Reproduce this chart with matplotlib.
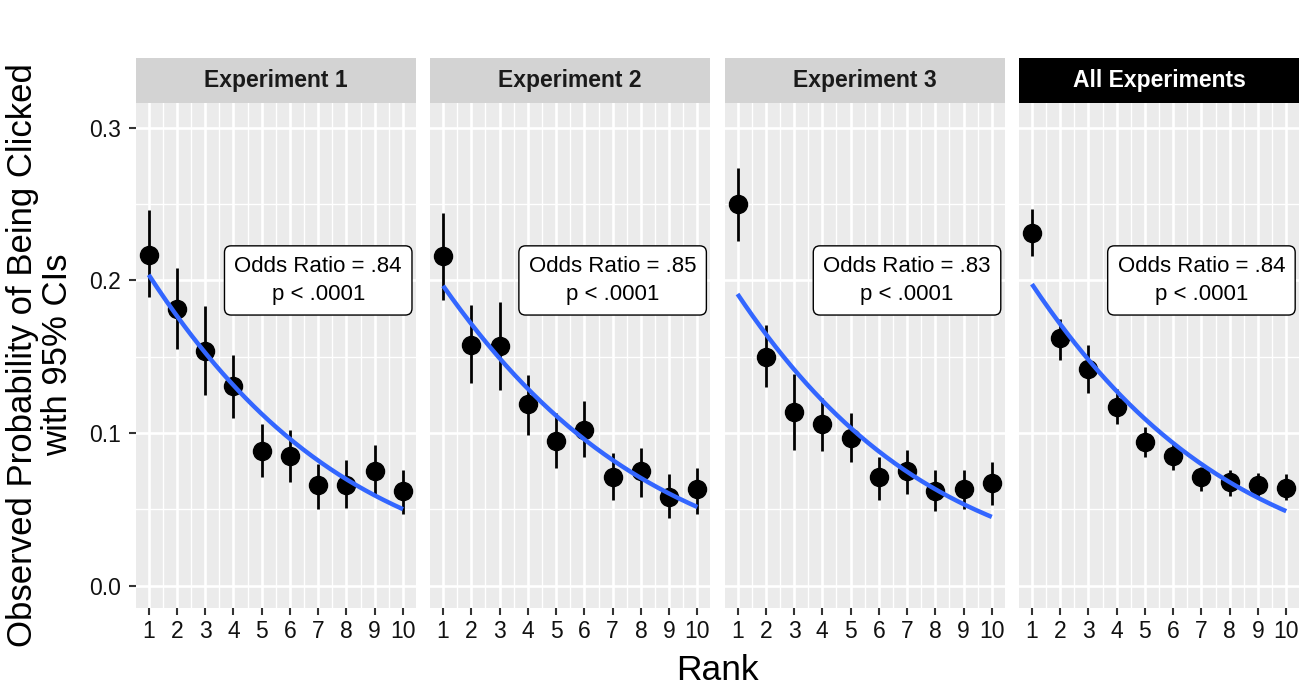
import numpy as np
import matplotlib
matplotlib.use("Agg")
import matplotlib.pyplot as plt
from matplotlib.ticker import FixedLocator

plt.rcParams['font.family'] = ['Liberation Sans', 'DejaVu Sans']

# ---------------- data ----------------
panels = ["Experiment 1", "Experiment 2", "Experiment 3", "All Experiments"]
ranks = [1, 2, 3, 4, 5, 6, 7, 8, 9, 10]

exp1_p  = [0.217, 0.181, 0.154, 0.131, 0.088, 0.085, 0.066, 0.066, 0.075, 0.062]
exp1_lo = [0.189, 0.155, 0.125, 0.110, 0.071, 0.068, 0.050, 0.051, 0.060, 0.047]
exp1_hi = [0.246, 0.208, 0.183, 0.151, 0.106, 0.102, 0.080, 0.082, 0.092, 0.076]

exp2_p  = [0.216, 0.158, 0.157, 0.119, 0.095, 0.102, 0.071, 0.075, 0.058, 0.063]
exp2_lo = [0.187, 0.133, 0.128, 0.099, 0.077, 0.084, 0.056, 0.058, 0.044, 0.047]
exp2_hi = [0.244, 0.184, 0.186, 0.138, 0.113, 0.121, 0.087, 0.090, 0.073, 0.077]

exp3_p  = [0.250, 0.150, 0.114, 0.106, 0.097, 0.071, 0.075, 0.062, 0.063, 0.067]
exp3_lo = [0.226, 0.130, 0.089, 0.088, 0.081, 0.056, 0.060, 0.049, 0.050, 0.053]
exp3_hi = [0.274, 0.171, 0.139, 0.123, 0.113, 0.084, 0.089, 0.076, 0.076, 0.081]

all_p   = [0.231, 0.162, 0.142, 0.117, 0.094, 0.085, 0.071, 0.068, 0.066, 0.064]
all_lo  = [0.216, 0.148, 0.126, 0.106, 0.084, 0.076, 0.062, 0.059, 0.058, 0.056]
all_hi  = [0.247, 0.175, 0.158, 0.129, 0.104, 0.094, 0.078, 0.076, 0.074, 0.073]

# logistic fit per panel: fitted probability at rank 1 and odds ratio per rank
fit_p_rank1 = [0.2037, 0.1965, 0.1911, 0.1976]
fit_odds_ratio = [0.839, 0.846, 0.836, 0.840]

labels = ["Odds Ratio = .84\np < .0001", "Odds Ratio = .85\np < .0001",
          "Odds Ratio = .83\np < .0001", "Odds Ratio = .84\np < .0001"]
label_x = 7
label_y = 0.2

y_ticks = [0.0, 0.1, 0.2, 0.3]
y_tick_labels = ["0.0", "0.1", "0.2", "0.3"]

series = [(exp1_p, exp1_lo, exp1_hi), (exp2_p, exp2_lo, exp2_hi),
          (exp3_p, exp3_lo, exp3_hi), (all_p, all_lo, all_hi)]

# ---------------- figure ----------------
W, H = 1310, 694
fig = plt.figure(figsize=(W / 100, H / 100), dpi=100)

left_px, top_px, bottom_px = 136, 102.7, 607.7
pw_px, gap_px = 279.7, 14.7
strip_top_px = 58.3

panel_bg = "#EBEBEB"
tick_col = "#333333"

for i, name in enumerate(panels):
    x0 = left_px + i * (pw_px + gap_px)
    ax = fig.add_axes([x0 / W, 1 - bottom_px / H, pw_px / W, (bottom_px - top_px) / H])
    ax.set_facecolor(panel_bg)
    for s in ax.spines.values():
        s.set_visible(False)
    ax.set_xlim(0.55, 10.45)
    ax.set_ylim(-0.0145, 0.3165)

    ax.xaxis.set_major_locator(FixedLocator(ranks))
    ax.xaxis.set_minor_locator(FixedLocator([r + 0.5 for r in ranks[:-1]]))
    ax.yaxis.set_major_locator(FixedLocator(y_ticks))
    ax.yaxis.set_minor_locator(FixedLocator([0.05, 0.15, 0.25]))
    ax.grid(which="major", color="white", linewidth=1.9)
    ax.grid(which="minor", color="white", linewidth=1.0)
    ax.set_axisbelow(True)

    ax.set_xticklabels([str(r) for r in ranks])
    ax.tick_params(axis="x", which="major", length=5, width=1.5, color=tick_col,
                   labelsize=16.5, labelcolor="#111111", pad=4)
    ax.tick_params(axis="both", which="minor", length=0)
    if i == 0:
        ax.set_yticklabels(y_tick_labels)
        ax.tick_params(axis="y", which="major", length=5, width=1.5, color=tick_col,
                       labelsize=16.5, labelcolor="#111111", pad=6)
    else:
        ax.tick_params(axis="y", which="major", length=0, labelleft=False)

    p, lo, hi = series[i]
    ax.vlines(ranks, lo, hi, colors="black", linewidth=2.0, capstyle="butt", zorder=3)
    ax.plot(ranks, p, "o", color="black", markersize=13, zorder=4)

    xs = np.linspace(1, 10, 200)
    logit0 = np.log(fit_p_rank1[i] / (1 - fit_p_rank1[i]))
    eta = logit0 + np.log(fit_odds_ratio[i]) * (xs - 1)
    ax.plot(xs, 1 / (1 + np.exp(-eta)), color="#3366FF", linewidth=3.2, zorder=5,
            solid_capstyle="butt")

    ax.text(label_x, label_y, labels[i], ha="center", va="center", fontsize=16,
            linespacing=1.45, zorder=6,
            bbox=dict(boxstyle="round,pad=0.45,rounding_size=0.3", facecolor="white",
                      edgecolor="black", linewidth=1.0))

    # strip
    sax = fig.add_axes([x0 / W, 1 - top_px / H, pw_px / W, (top_px - strip_top_px) / H])
    sax.set_xticks([]); sax.set_yticks([])
    for s in sax.spines.values():
        s.set_visible(False)
    if name == "All Experiments":
        sax.set_facecolor("black"); tc = "white"
    else:
        sax.set_facecolor("#D3D3D3"); tc = "#1A1A1A"
    sax.text(0.5, 0.5, name, ha="center", va="center", fontsize=16.5,
             fontweight="bold", color=tc, transform=sax.transAxes)

fig.text(40 / W, 1 - 355 / H, "Observed Probability of Being Clicked\nwith 95% CIs",
         rotation=90, ha="center", va="center", fontsize=25, linespacing=1.05)
fig.text(717.5 / W, 1 - 680 / H, "Rank", ha="center", va="baseline", fontsize=25.5)

fig.savefig("out.png", dpi=100)
